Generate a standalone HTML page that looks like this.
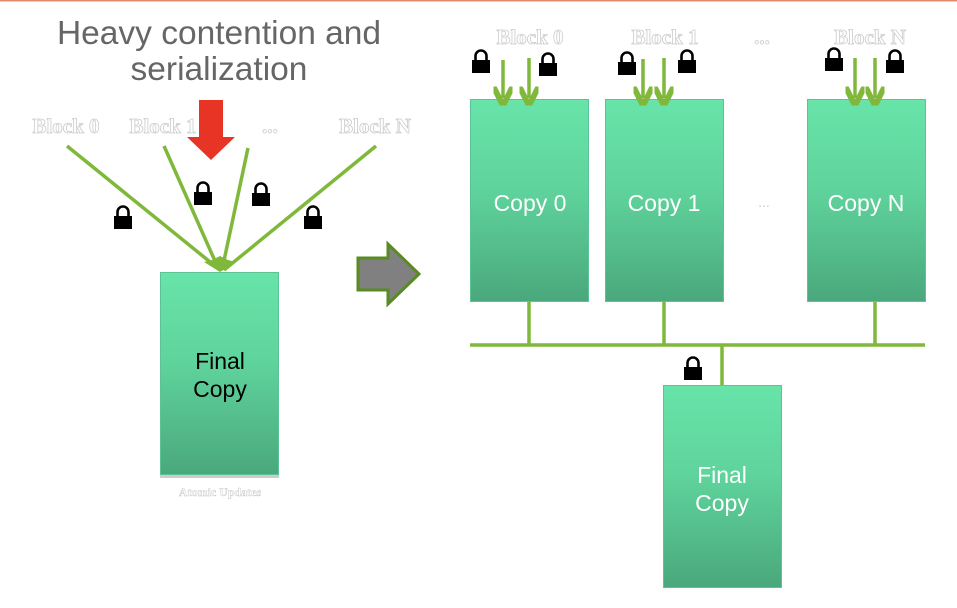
<!DOCTYPE html>
<html><head><style>body{margin:0;background:#fff}svg{display:block}</style></head><body>
<svg width="957" height="608" viewBox="0 0 957 608" xmlns="http://www.w3.org/2000/svg">
<defs>
<linearGradient id="g" x1="0" y1="0" x2="0" y2="1"><stop offset="0" stop-color="#68e4a9"/><stop offset="0.45" stop-color="#5fd39c"/><stop offset="1" stop-color="#4aa87c"/></linearGradient>
<symbol id="lock" viewBox="0 0 20 26"><path d="M4.5 13 V8 A5.5 5.5 0 0 1 15.5 8 V13" fill="none" stroke="#000" stroke-width="2.6"/><rect x="1" y="12" width="18" height="13" fill="#000"/></symbol>
<marker id="ah" viewBox="0 0 10 10" refX="6" refY="5" markerWidth="5.5" markerHeight="5.5" orient="auto"><path d="M0 0 L10 5 L0 10" fill="none" stroke="#7fb83a" stroke-width="3"/></marker>
</defs>
<rect x="0" y="0" width="957" height="1.5" fill="#e08a6e"/>
<g font-family="Liberation Sans, sans-serif" fill="#666" font-size="33.5" text-anchor="middle">
<text x="219" y="44">Heavy contention and</text><text x="219" y="80">serialization</text></g>
<g font-family="Liberation Serif, serif" font-weight="bold" font-size="21" fill="#fff" stroke="#ccc" stroke-width="0.8" text-anchor="middle">
<text x="66" y="133">Block 0</text><text x="163" y="133">Block 1</text><text x="270" y="133">...</text><text x="375" y="133">Block N</text>
<text x="530" y="44">Block 0</text><text x="665" y="44">Block 1</text><text x="762" y="44">...</text><text x="870" y="44">Block N</text>
<text x="220" y="496" font-size="12" stroke-width="0.5">Atomic Updates</text>
</g>
<g stroke="#7fb83a" stroke-width="3.5" fill="none">
<line x1="67" y1="146" x2="220" y2="270"/><line x1="164" y1="146" x2="219" y2="270"/><line x1="248" y1="148" x2="222" y2="270"/><line x1="376" y1="146" x2="224" y2="270"/>
</g>
<path d="M204 262 L220 272 L236 262 L228 260 L220 256 L212 260Z" fill="#7fb83a"/>
<path d="M199 100 H223 V137 H235 L211 160 L187 137 H199Z" fill="#e83424"/>
<use href="#lock" x="113" y="204" width="20" height="26"/><use href="#lock" x="193" y="180" width="20" height="26"/><use href="#lock" x="251" y="181" width="20" height="26"/><use href="#lock" x="303" y="204" width="20" height="26"/>
<rect x="160.5" y="272.5" width="118" height="202" fill="url(#g)" stroke="#5cc397"/>
<rect x="160" y="475" width="119" height="3" fill="#ccc"/>
<g font-family="Liberation Sans, sans-serif" font-size="23" text-anchor="middle" fill="#000">
<text x="220" y="369">Final</text><text x="220" y="397">Copy</text></g>
<path d="M358 258 H388 V244 L419 274 L388 304 V290 H358Z" fill="#808080" stroke="#5a8a22" stroke-width="3"/>
<g stroke="#5cc397"><rect x="470.5" y="99.5" width="118" height="202" fill="url(#g)"/><rect x="605.5" y="99.5" width="118" height="202" fill="url(#g)"/><rect x="807.5" y="99.5" width="118" height="202" fill="url(#g)"/><rect x="663.5" y="385.5" width="118" height="202" fill="url(#g)"/></g>
<g font-family="Liberation Sans, sans-serif" font-size="23" text-anchor="middle" fill="#fff">
<text x="530" y="211">Copy 0</text><text x="664" y="211">Copy 1</text><text x="866" y="211">Copy N</text>
<text x="722" y="483">Final</text><text x="722" y="511">Copy</text></g>
<text x="764" y="207" font-family="Liberation Sans, sans-serif" font-size="14" fill="#ccc" text-anchor="middle">...</text>
<g stroke="#7fb83a" stroke-width="3.5" fill="none">
<line x1="470" y1="345" x2="925" y2="345"/><line x1="529" y1="302" x2="529" y2="345"/><line x1="664" y1="302" x2="664" y2="345"/><line x1="875" y1="302" x2="875" y2="345"/><line x1="722" y1="345" x2="722" y2="385"/>
<line x1="503" y1="60" x2="503" y2="98" marker-end="url(#ah)"/><line x1="529" y1="58" x2="529" y2="98" marker-end="url(#ah)"/>
<line x1="643" y1="59" x2="643" y2="98" marker-end="url(#ah)"/><line x1="664" y1="58" x2="664" y2="98" marker-end="url(#ah)"/>
<line x1="855" y1="58" x2="855" y2="98" marker-end="url(#ah)"/><line x1="875" y1="58" x2="875" y2="98" marker-end="url(#ah)"/>
</g>
<use href="#lock" x="471" y="48" width="20" height="26"/><use href="#lock" x="538" y="51" width="20" height="26"/><use href="#lock" x="617" y="50" width="20" height="26"/><use href="#lock" x="677" y="48" width="20" height="26"/><use href="#lock" x="824" y="46" width="20" height="26"/><use href="#lock" x="885" y="48" width="20" height="26"/>
<use href="#lock" x="683" y="355" width="20" height="26"/>
</svg>
</body></html>
